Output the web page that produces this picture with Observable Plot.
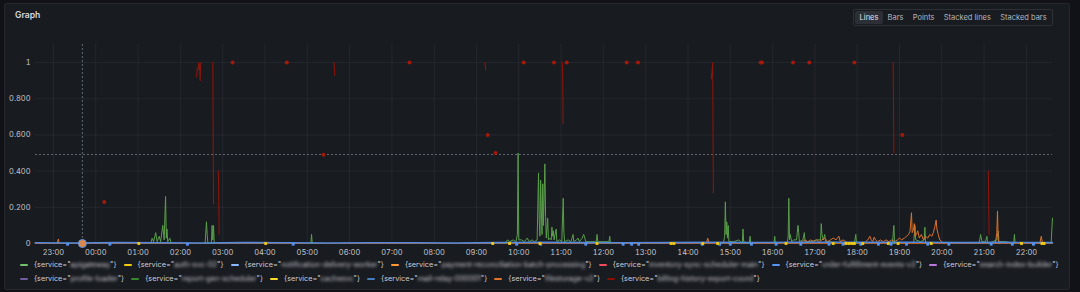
<!DOCTYPE html>
<html>
<head>
<meta charset="utf-8">
<script src="https://cdn.jsdelivr.net/npm/d3@7"></script>
<script src="https://cdn.jsdelivr.net/npm/@observablehq/plot@0.6"></script>
<style>
  html, body { margin: 0; padding: 0; background: #111217; width: 1080px; height: 292px; overflow: hidden; font-family: Inter, "Noto Sans", sans-serif; }
  #panel { position: absolute; left: 4px; top: 3px; width: 1064px; height: 285px; background: #181b1f; border: 1px solid rgba(204,204,220,0.08); border-radius: 3px; }
  #title { position: absolute; left: 15px; top: 10px; font-size: 8.6px; font-weight: 600; color: #d8d9e0; }
  #modes { position: absolute; left: 853px; top: 9px; height: 13px; display: flex; border: 1px solid rgba(204,204,220,0.12); border-radius: 2px; padding: 1px 1px; }
  #modes span { font-size: 7.5px; line-height: 13px; padding: 0 4.6px; color: #b5b6be; border-radius: 2px; }
  #modes span.active { background: #2c2f36; color: #e3e4ea; }
  #chart { position: absolute; left: 0; top: 30px; }
  #legend { position: absolute; left: 20px; top: 258px; width: 1060px; display: flex; flex-wrap: wrap; font-size: 7.3px; line-height: 14px; color: #ccccdc; }
  .item { display: inline-flex; align-items: center; margin-right: 7px; white-space: nowrap; }
  .sw { width: 8px; height: 2.5px; border-radius: 1px; margin-right: 6px; }
  .blur { filter: blur(1.8px); color: #c9c9d4; }
</style>
</head>
<body>
<div id="panel"></div>
<div id="title">Graph</div>
<div id="modes"></div>
<div id="chart"></div>
<div id="legend"></div>
<script>
// ---------- data ----------
const DAY1 = "2024-05-13", DAY2 = "2024-05-14";   // "-HH:MM" = previous day
const xDomain = ["-22:34:30", "22:37"];
const hourTicks = ["-23:00","00:00","01:00","02:00","03:00","04:00","05:00","06:00","07:00","08:00","09:00","10:00","11:00","12:00","13:00","14:00","15:00","16:00","17:00","18:00","19:00","20:00","21:00","22:00"];
const yTicks = [0, 0.2, 0.4, 0.6, 0.8, 1];
const yTickLabels = ["0", "0.200", "0.400", "0.600", "0.800", "1"];
const modeLabels = ["Lines", "Bars", "Points", "Stacked lines", "Stacked bars"];

const legendNames = [
  "apigateway", "auth-svc-02", "notification-delivery-worker", "payment-reconciliation-batch-processing", "inventory-sync-scheduler-main",
  "order-fulfillment-events-v2", "search-index-builder", "profile-loader", "report-gen-scheduler", "cachesvc", "mail-relay-000001", "filestorage-v2", "billing-history-export-coord"
];
const legendColors = ["#73BF69","#F2CC0C","#8AB8FF","#FF9830","#F2495C","#5794F2","#B877D9","#705DA0","#37872D","#FADE2A","#447EBC","#E0752D","#890F02"];

const hoverTime = "-23:41";
const hoverY = 0.492;

const orangeBase = [["-22:34",0],["22:37",0]];
const blueLine = [["-22:34",0.004],["-23:30",0.003],["00:30",0.005],["01:30",0.004],["02:30",0.003],["03:30",0.005],["04:30",0.004],["05:30",0.003],["06:30",0.004],["07:30",0.004],["08:30",0.003],["09:30",0.005],["10:30",0.006],["11:30",0.005],["12:30",0.004],["13:30",0.005],["14:30",0.006],["15:30",0.005],["16:30",0.006],["17:30",0.007],["18:30",0.006],["19:30",0.007],["20:30",0.005],["21:30",0.006],["22:37",0.005]];

const greenSeries = [
 ["01:18",0],["01:20",0.03],["01:22",0.01],["01:25",0.06],["01:27",0.01],["01:30",0.04],["01:32",0.01],["01:35",0.10],["01:37",0.02],["01:39",0.26],["01:40",0.03],["01:41",0.08],["01:42",0.01],["01:45",0.03],["01:47",0],null,
 ["02:35",0],["02:37",0.12],["02:38",0.05],["02:39",0],["02:44",0],["02:45",0.10],["02:46",0.02],["02:47",0.10],["02:48",0],null,
 ["05:05",0],["05:06",0.05],["05:07",0],null,
 ["09:40",0],["09:44",0.02],["09:47",0.01],["09:52",0.02],["09:56",0.01],["09:58",0.05],["09:59",0.50],["10:00",0.02],["10:04",0.02],["10:08",0.01],["10:12",0.03],["10:15",0.01],["10:19",0.02],["10:22",0.01],["10:26",0.02],["10:28",0.39],["10:29",0.12],["10:30",0.04],["10:31",0.35],["10:32",0.18],["10:33",0.05],["10:34",0.33],["10:35",0.10],["10:37",0.44],["10:38",0.15],["10:39",0.03],["10:41",0.14],["10:42",0.02],["10:44",0.03],["10:46",0.02],["10:47",0.09],["10:48",0.04],["10:49",0.07],["10:50",0.02],["10:53",0.08],["10:54",0.01],["10:58",0.02],["11:01",0.01],["11:03",0.25],["11:04",0.06],["11:05",0.01],["11:10",0.02],["11:14",0.01],["11:17",0.05],["11:18",0.01],["11:22",0.02],["11:24",0.03],["11:26",0.01],["11:30",0.03],["11:32",0.05],["11:33",0.04],["11:35",0.01],["11:42",0.01],["11:50",0.01],["11:51",0.05],["11:52",0.01],["12:00",0.01],["12:08",0.01],["12:09",0.04],["12:10",0],null,
 ["14:50",0],["14:52",0.04],["14:53",0.23],["14:54",0.05],["14:55",0.12],["14:56",0.03],["14:57",0.10],["14:58",0.01],["15:05",0.01],["15:12",0.02],["15:17",0],["15:18",0.08],["15:19",0.01],["15:27",0],["15:28",0.04],["15:29",0],null,
 ["16:02",0],["16:03",0.04],["16:04",0],null,
 ["16:20",0],["16:22",0.03],["16:23",0.25],["16:24",0.02],["16:25",0.05],["16:27",0.01],["16:30",0.02],["16:34",0.02],["16:36",0.10],["16:37",0.06],["16:38",0.01],["16:43",0.02],["16:45",0.06],["16:46",0.01],["16:55",0.01],["17:02",0.02],["17:08",0.02],["17:09",0.11],["17:10",0.05],["17:12",0.02],["17:14",0.05],["17:15",0.01],["17:22",0.01],["17:30",0],null,
 ["17:56",0],["17:58",0.05],["17:59",0],null,
 ["18:50",0],["18:52",0.10],["18:53",0],null,
 ["19:20",0],["19:22",0.10],["19:23",0.02],["19:30",0.01],["19:35",0.02],["19:36",0.09],["19:37",0],null,
 ["20:53",0],["20:55",0.05],["20:57",0.01],["21:02",0.01],["21:04",0.04],["21:05",0],["21:12",0.01],["21:18",0.02],["21:20",0.07],["21:21",0.01],["21:30",0.01],["21:42",0],["21:43",0.05],["21:44",0],null,
 ["22:35",0],["22:37",0.14]
];

const orangeSeries = [
 ["-23:05",0],["-23:07",0.025],["-23:08",0],null,
 ["14:26",0],["14:28",0.03],["14:30",0],null,
 ["16:38",0],["16:42",0.01],["16:46",0.02],["16:50",0.01],["16:54",0.02],["16:58",0.01],["17:02",0.02],["17:06",0.01],["17:10",0.02],["17:14",0.03],["17:18",0.01],["17:22",0.02],["17:26",0.03],["17:30",0.02],["17:34",0.04],["17:36",0.01],["17:40",0.02],["17:44",0.01],["17:48",0],null,
 ["18:08",0],["18:12",0.01],["18:15",0.02],["18:18",0.04],["18:20",0.02],["18:22",0.01],["18:24",0.035],["18:26",0.02],["18:29",0.01],["18:33",0.02],["18:37",0.01],["18:41",0.02],["18:45",0.01],["18:49",0.02],["18:53",0.01],["18:57",0.02],["19:00",0.03],["19:03",0.02],["19:07",0.03],["19:10",0.04],["19:13",0.05],["19:15",0.07],["19:17",0.17],["19:18",0.06],["19:20",0.08],["19:21",0.11],["19:22",0.04],["19:24",0.05],["19:26",0.07],["19:28",0.03],["19:31",0.05],["19:34",0.02],["19:37",0.04],["19:40",0.03],["19:43",0.05],["19:46",0.04],["19:48",0.06],["19:50",0.09],["19:52",0.13],["19:53",0.08],["19:55",0.05],["19:57",0.02],["20:00",0.01],["20:03",0],null,
 ["21:16",0],["21:18",0.06],["21:19",0.18],["21:20",0.02],["21:22",0],null,
 ["22:19",0],["22:21",0.04],["22:23",0]
];

const redSeries = [
 ["00:12",0.23],null,
 ["02:23",0.92],["02:24",0.97],["02:25",0.96],["02:26",1],["02:27",0.99],["02:28",0.90],["02:29",1],null,
 ["02:46",1],["02:47",0.22],null,
 ["02:54",0.40],["02:55",0.05],null,
 ["03:14",1],null,["04:31",1],null,["05:23",0.49],null,["05:38",1],["05:39",0.93],null,["07:25",1],null,
 ["09:12",1],["09:13",0.96],null,["09:16",0.6],null,["09:27",0.5],null,["10:07",1],null,["10:50",1],null,
 ["11:02",1],["11:03",0.66],null,["11:08",1],null,["12:33",1],null,["12:49",1],null,
 ["14:33",0.91],["14:34",0.95],["14:35",1],["14:36",0.28],null,
 ["15:43",1],null,["15:45",1],null,["16:29",1],null,["16:52",1],null,["17:56",1],null,
 ["18:51",1],["18:52",0.5],null,["19:04",0.6],null,["21:06",0.40],["21:07",0.05]
];

const yellowPoints = ["01:01","04:01","09:23","09:47","10:30","11:51","13:36","13:40","14:21","14:42","16:19","17:26","17:44","17:48","17:52","17:56","18:08","18:44","18:58","19:45","21:53","22:22","22:25"];
const lightBluePoints = ["-23:20","00:20","02:10","04:40","09:57","10:31","11:35","12:28","12:40","12:50","14:20","14:45","15:00","15:30","16:05","16:40","17:20","17:40","18:05","18:30","18:48","19:10","19:40","20:10","21:10","21:40","22:10"];

// ---------- helpers ----------
const T = s => new Date((s.startsWith("-") ? DAY1 + "T" + s.slice(1) : DAY2 + "T" + s) + (s.length > 6 ? "Z" : ":00Z"));
const toRows = arr => arr.map(p => p ? {t: T(p[0]), v: p[1]} : {t: null, v: null});
const isolated = arr => arr.filter((p, i) => p && !arr[i-1] && !arr[i+1]).map(p => ({t: T(p[0]), v: p[1]}));

const green = toRows(greenSeries), orange = toRows(orangeSeries), red = toRows(redSeries);
const redDots = isolated(redSeries);
const hours = hourTicks.map(T);

// ---------- header ----------
const modes = document.getElementById("modes");
modeLabels.forEach((m, i) => { const s = document.createElement("span"); s.textContent = m; if (i === 0) s.className = "active"; modes.appendChild(s); });

// ---------- chart ----------
const chart = Plot.plot({
  width: 1080, height: 228,
  marginTop: 14, marginBottom: 15, marginLeft: 35, marginRight: 28,
  style: {background: "transparent", color: "#c4c5cd", fontSize: "7.5px", fontFamily: "Inter, sans-serif"},
  x: {type: "utc", domain: xDomain.map(T), label: null},
  y: {domain: [0, 1.1], label: null},
  marks: [
    Plot.ruleY(yTicks, {stroke: "#ccccdc", strokeOpacity: 0.07}),
    Plot.ruleX(hours, {stroke: "#ccccdc", strokeOpacity: 0.07}),
    Plot.axisX(hours, {tickFormat: d3.utcFormat("%H:%M"), tickSize: 0, tickPadding: 6, label: null}),
    Plot.axisY(yTicks, {tickFormat: d => yTickLabels[yTicks.indexOf(d)], tickSize: 0, tickPadding: 5, label: null}),
    Plot.ruleX([T(hoverTime)], {stroke: "#9aa8b8", strokeOpacity: 0.55, strokeDasharray: "2,2"}),
    Plot.ruleY([hoverY], {stroke: "#9aa8b8", strokeOpacity: 0.55, strokeDasharray: "2,2"}),
    Plot.line(toRows(orangeBase), {x: "t", y: "v", stroke: "#C15C17", strokeWidth: 1}),
    Plot.line(green, {x: "t", y: "v", stroke: "#5A9E4A", strokeWidth: 1}),
    Plot.line(orange, {x: "t", y: "v", stroke: "#D9712C", strokeWidth: 1}),
    Plot.line(toRows(blueLine), {x: "t", y: "v", stroke: "#4F8AE0", strokeWidth: 1.6}),
    Plot.dot(lightBluePoints.map(T), {x: d => d, y: -0.004, symbol: "square", r: 1.6, fill: "#5794F2", stroke: null}),
    Plot.dot(yellowPoints.map(T), {x: d => d, y: 0, symbol: "square", r: 1.6, fill: "#F2CC0C", stroke: null}),
    Plot.line(red, {x: "t", y: "v", stroke: "#8A150B", strokeWidth: 1.1}),
    Plot.dot(redDots, {x: "t", y: "v", r: 2, fill: "#A3190C", stroke: null}),
    Plot.dot([T(hoverTime)], {x: d => d, y: 0, r: 4, fill: "#D9884E", stroke: "#5794F2", strokeWidth: 1})
  ]
});
document.getElementById("chart").appendChild(chart);

// ---------- legend ----------
const legend = document.getElementById("legend");
legendNames.forEach((name, i) => {
  const item = document.createElement("div"); item.className = "item";
  const sw = document.createElement("div"); sw.className = "sw"; sw.style.background = legendColors[i];
  const txt = document.createElement("span");
  txt.append('{service="');
  const b = document.createElement("span"); b.className = "blur"; b.textContent = name; txt.appendChild(b);
  txt.append('"}');
  item.appendChild(sw); item.appendChild(txt); legend.appendChild(item);
});
</script>
</body>
</html>
